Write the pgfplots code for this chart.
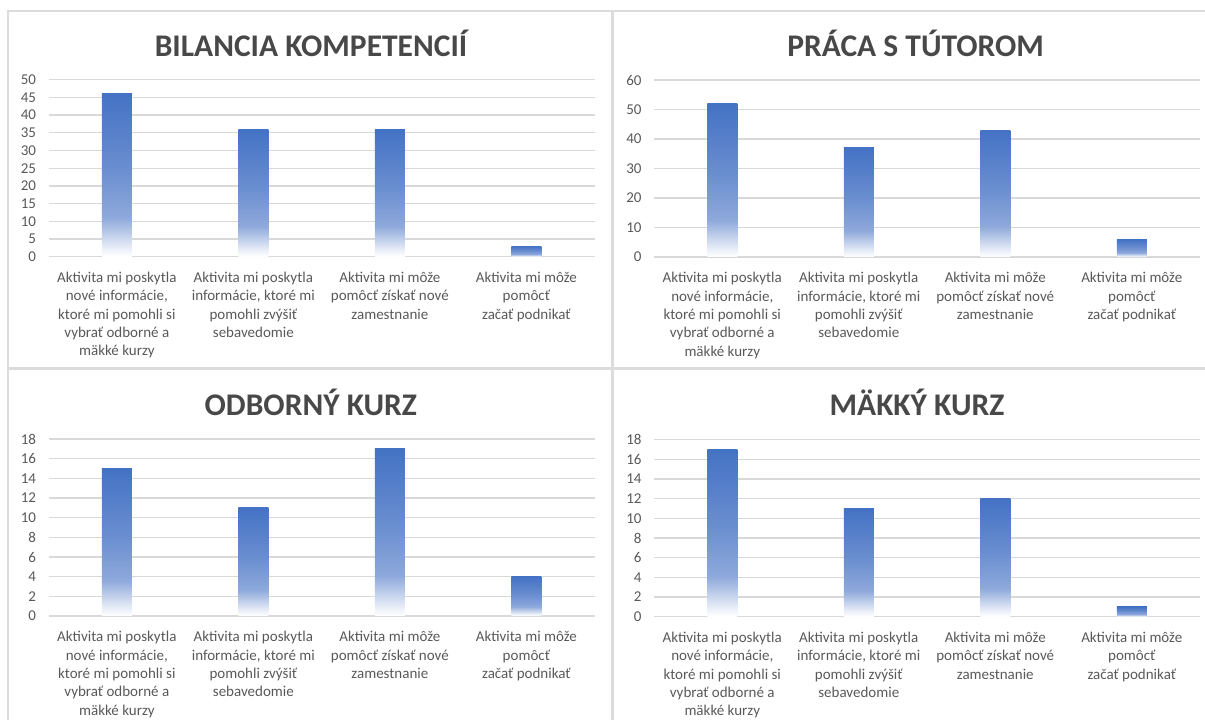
\documentclass[border=0pt]{standalone}
\usepackage{fontspec}
\setmainfont{Carlito}
\usepackage{pgfplots}
\pgfplotsset{compat=1.18}
\definecolor{barA}{HTML}{4472C4}
\definecolor{barB}{HTML}{6A8ED0}
\definecolor{barC}{HTML}{8EA9DB}
\definecolor{barD}{HTML}{E6ECF7}
\definecolor{gridc}{HTML}{D9D9D9}
\definecolor{txtc}{HTML}{595959}
\definecolor{titc}{HTML}{484848}
\definecolor{framec}{HTML}{DCDCDC}
\pgfdeclareverticalshading{barfade}{100bp}{color(0bp)=(white); color(25bp)=(white); color(28bp)=(barD); color(37bp)=(barC); color(52bp)=(barB); color(75bp)=(barA); color(100bp)=(barA)}
\pgfplotsset{
  panel/.style={
    scale only axis,
    width=546pt, height=177pt,
    anchor=south west,
    xmin=-0.5, xmax=3.5,
    ymin=0,
    xtick={0,1,2,3},
    xticklabels={
      {Aktivita mi poskytla\\nové informácie,\\ktoré mi pomohli si\\vybrať odborné a\\mäkké kurzy},
      {Aktivita mi poskytla\\informácie, ktoré mi\\pomohli zvýšiť\\sebavedomie},
      {Aktivita mi môže\\pomôcť získať nové\\zamestnanie},
      {Aktivita mi môže\\pomôcť\\začať podnikať}},
    major tick length=0pt,
    axis line style={draw=none},
    ymajorgrids,
    grid style={gridc, line width=1.3pt},
    /pgf/number format/assume math mode=true,
    yticklabel style={font=\fontsize{15}{18}\selectfont, text=txtc, xshift=-9pt},
    xticklabel style={font=\fontsize{15}{18.3}\selectfont, text=txtc, align=center, anchor=north, yshift=-12pt},
    clip=false,
  },
  bars/.style={ybar, bar width=30pt, bar shift=0pt, draw=none, shading=barfade},
}
\begin{document}
\begin{tikzpicture}[x=1pt,y=1pt]
\useasboundingbox (0,0) rectangle (1205,720);
% panel frames
\draw[framec, line width=2.5pt] (8,0) -- (8,709) -- (1205,709);
\draw[framec, line width=3pt] (612.5,0) -- (612.5,709);
\draw[framec, line width=3pt] (8,351.5) -- (1205,351.5);
% titles
\node[font=\fontsize{31.5}{36}\selectfont\bfseries, text=titc] at (311,677) {BILANCIA KOMPETENCIÍ};
\node[font=\fontsize{31.5}{36}\selectfont\bfseries, text=titc] at (915.6,677) {PRÁCA S TÚTOROM};
\node[font=\fontsize{31.5}{36}\selectfont\bfseries, text=titc] at (310.8,318) {ODBORNÝ KURZ};
\node[font=\fontsize{31.5}{36}\selectfont\bfseries, text=titc] at (917,318) {MÄKKÝ KURZ};

\begin{axis}[panel, at={(48.6pt,463.3pt)}, ymax=50, ytick={0,5,...,50}]
\addplot[bars] coordinates {(0,46)};
\addplot[bars] coordinates {(1,36)};
\addplot[bars] coordinates {(2,36)};
\addplot[bars] coordinates {(3,3)};
\end{axis}

\begin{axis}[panel, at={(654pt,463pt)}, ymax=60, ytick={0,10,...,60}]
\addplot[bars] coordinates {(0,52)};
\addplot[bars] coordinates {(1,37)};
\addplot[bars] coordinates {(2,43)};
\addplot[bars] coordinates {(3,6)};
\end{axis}

\begin{axis}[panel, at={(48.6pt,104pt)}, ymax=18, ytick={0,2,...,18}]
\addplot[bars] coordinates {(0,15)};
\addplot[bars] coordinates {(1,11)};
\addplot[bars] coordinates {(2,17)};
\addplot[bars] coordinates {(3,4)};
\end{axis}

\begin{axis}[panel, at={(654pt,103.3pt)}, ymax=18, ytick={0,2,...,18}]
\addplot[bars] coordinates {(0,17)};
\addplot[bars] coordinates {(1,11)};
\addplot[bars] coordinates {(2,12)};
\addplot[bars] coordinates {(3,1)};
\end{axis}
\end{tikzpicture}
\end{document}
